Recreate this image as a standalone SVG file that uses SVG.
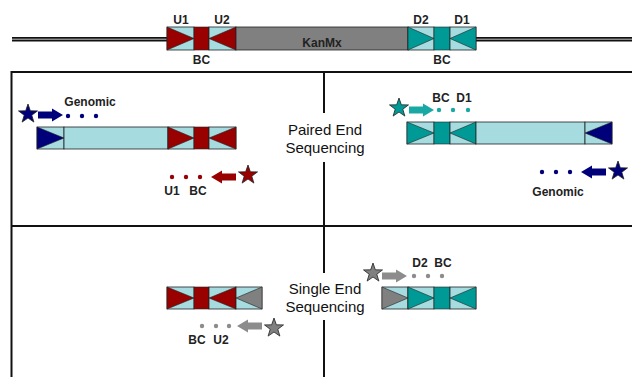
<svg xmlns="http://www.w3.org/2000/svg" width="632" height="377" viewBox="0 0 632 377">
<style>
.cy{fill:#a6dce0;stroke:#222;stroke-width:0.8}
.rd{fill:#990000;stroke:#222;stroke-width:0.6}
.tl{fill:#009a96;stroke:#222;stroke-width:0.6}
.nv{fill:#00007a;stroke:#222;stroke-width:0.6}
.gy{fill:#808080;stroke:#222;stroke-width:0.6}
.frame{stroke:#111;stroke-width:2;fill:none}
.lbl{font-family:"Liberation Sans",Arial,sans-serif;font-weight:bold;font-size:12px;fill:#222;text-anchor:middle}
.big{font-family:"Liberation Sans",Arial,sans-serif;font-size:15px;fill:#111;text-anchor:middle}
</style>
<defs>
<polygon id="star" points="0,-10 2.35,-3.2 9.5,-3.1 3.8,1.23 5.88,8.09 0,4 -5.88,8.09 -3.8,1.23 -9.5,-3.1 -2.35,-3.2" stroke="#222" stroke-width="0.8"/>
<polygon id="arr" points="0,-3.6 14,-3.6 14,-6.5 25,0 14,6.5 14,3.6 0,3.6"/>
</defs>
<rect width="632" height="377" fill="#fff"/>

<!-- frame -->
<g id="frame">
<path class="frame" d="M11.5,377 V72 H632 M11.5,226 H632 M324,72 V113 M324,162 V273 M324,320 V377"/>
</g>

<!-- top construct -->
<g id="construct">
<rect x="12" y="37" width="156" height="4.5" fill="#111"/>
<rect x="476" y="37" width="156" height="4.5" fill="#111"/>
<rect x="12" y="38.6" width="156" height="1.3" fill="#9a9a9a"/>
<rect x="476" y="38.6" width="156" height="1.3" fill="#9a9a9a"/>
<rect class="cy" x="167" y="27" width="27" height="23"/>
<polygon class="rd" points="167,27 167,50 194,38.5"/>
<rect class="rd" x="194" y="27" width="15" height="23"/>
<rect class="cy" x="209" y="27" width="27" height="23"/>
<polygon class="rd" points="236,27 236,50 209,38.5"/>
<rect x="236" y="27" width="172" height="23" fill="#808080" stroke="#222" stroke-width="0.8"/>
<rect class="cy" x="408" y="27" width="26" height="23"/>
<polygon class="tl" points="408,27 408,50 434,38.5"/>
<rect class="tl" x="434" y="27" width="16" height="23"/>
<rect class="cy" x="450" y="27" width="26" height="23"/>
<polygon class="tl" points="476,27 476,50 450,38.5"/>
<text class="lbl" x="181" y="24">U1</text>
<text class="lbl" x="222" y="24">U2</text>
<text class="lbl" x="201.5" y="64">BC</text>
<text class="lbl" x="322" y="47">KanMx</text>
<text class="lbl" x="421" y="24">D2</text>
<text class="lbl" x="462" y="24">D1</text>
<text class="lbl" x="442" y="64">BC</text>
</g>

<!-- paired end left fragment -->
<g id="pe-left">
<rect class="cy" x="37" y="127" width="27" height="22"/>
<polygon class="nv" points="37,127 37,149 64,138"/>
<rect class="cy" x="64" y="127" width="104" height="22"/>
<rect class="cy" x="168" y="127" width="26" height="22"/>
<polygon class="rd" points="168,127 168,149 194,138"/>
<rect class="rd" x="194" y="127" width="15" height="22"/>
<rect class="cy" x="209" y="127" width="27" height="22"/>
<polygon class="rd" points="236,127 236,149 209,138"/>
</g>

<!-- paired end right fragment -->
<g id="pe-right">
<rect class="cy" x="407" y="122" width="27" height="22"/>
<polygon class="tl" points="407,122 407,144 434,133"/>
<rect class="tl" x="434" y="122" width="16" height="22"/>
<rect class="cy" x="450" y="122" width="26" height="22"/>
<polygon class="tl" points="476,122 476,144 450,133"/>
<rect class="cy" x="476" y="122" width="109" height="22"/>
<rect class="cy" x="585" y="122" width="27" height="22"/>
<polygon class="nv" points="612,122 612,144 585,133"/>
</g>

<!-- single end left fragment -->
<g id="se-left">
<rect class="cy" x="167" y="287" width="27" height="22"/>
<polygon class="rd" points="167,287 167,309 194,298"/>
<rect class="rd" x="194" y="287" width="15" height="22"/>
<rect class="cy" x="209" y="287" width="27" height="22"/>
<polygon class="rd" points="236,287 236,309 209,298"/>
<rect class="cy" x="236" y="287" width="26" height="22"/>
<polygon class="gy" points="262,287 262,309 236,298"/>
</g>

<!-- single end right fragment -->
<g id="se-right">
<rect class="cy" x="382" y="287" width="26" height="22"/>
<polygon class="gy" points="382,287 382,309 408,298"/>
<rect class="cy" x="408" y="287" width="26" height="22"/>
<polygon class="tl" points="408,287 408,309 434,298"/>
<rect class="tl" x="434" y="287" width="16" height="22"/>
<rect class="cy" x="450" y="287" width="26" height="22"/>
<polygon class="tl" points="476,287 476,309 450,298"/>
</g>

<!-- section labels -->
<g id="pe-label">
<text class="big" x="325" y="135">Paired End</text>
<text class="big" x="325" y="153">Sequencing</text>
</g>
<g id="se-label">
<text class="big" x="325" y="294">Single End</text>
<text class="big" x="325" y="312">Sequencing</text>
</g>

<!-- reads (connectors) -->
<g id="connectors">
<!-- PE genomic forward -->
<use href="#star" x="28" y="114" fill="#00007a"/>
<use href="#arr" transform="translate(38,115)" fill="#00007a"/>
<circle cx="68" cy="116" r="2.2" fill="#00007a"/>
<circle cx="82" cy="116" r="2.2" fill="#00007a"/>
<circle cx="96" cy="116" r="2.2" fill="#00007a"/>
<!-- PE U1 reverse -->
<use href="#star" x="248" y="175" fill="#990000"/>
<use href="#arr" transform="translate(236,177) scale(-1,1)" fill="#990000"/>
<circle cx="172" cy="177" r="2.2" fill="#990000"/>
<circle cx="186" cy="177" r="2.2" fill="#990000"/>
<circle cx="200" cy="177" r="2.2" fill="#990000"/>
<!-- PE D1 forward -->
<use href="#star" x="399" y="108" fill="#009a96"/>
<use href="#arr" transform="translate(409,110)" fill="#1aa8a4"/>
<circle cx="439" cy="110" r="2.2" fill="#1aa8a4"/>
<circle cx="453" cy="110" r="2.2" fill="#1aa8a4"/>
<circle cx="468" cy="110" r="2.2" fill="#1aa8a4"/>
<!-- PE genomic reverse -->
<use href="#star" x="618" y="171" fill="#00007a"/>
<use href="#arr" transform="translate(606,172) scale(-1,1)" fill="#00007a"/>
<circle cx="542" cy="172" r="2.2" fill="#00007a"/>
<circle cx="556" cy="172" r="2.2" fill="#00007a"/>
<circle cx="570" cy="172" r="2.2" fill="#00007a"/>
<!-- SE U2 reverse -->
<use href="#star" x="274" y="328" fill="#808080"/>
<use href="#arr" transform="translate(262,326) scale(-1,1)" fill="#8c8c8c"/>
<circle cx="202" cy="326" r="2.2" fill="#8c8c8c"/>
<circle cx="216" cy="326" r="2.2" fill="#8c8c8c"/>
<circle cx="229" cy="326" r="2.2" fill="#8c8c8c"/>
<!-- SE D2 forward -->
<use href="#star" x="373" y="273" fill="#808080"/>
<use href="#arr" transform="translate(382,276)" fill="#8c8c8c"/>
<circle cx="414" cy="276" r="2.2" fill="#8c8c8c"/>
<circle cx="428" cy="276" r="2.2" fill="#8c8c8c"/>
<circle cx="442" cy="276" r="2.2" fill="#8c8c8c"/>
</g>

<g id="read-labels">
<text class="lbl" x="90" y="106">Genomic</text>
<text class="lbl" x="172" y="195">U1</text>
<text class="lbl" x="198" y="195">BC</text>
<text class="lbl" x="441" y="102">BC</text>
<text class="lbl" x="464" y="102">D1</text>
<text class="lbl" x="558" y="196">Genomic</text>
<text class="lbl" x="197" y="344">BC</text>
<text class="lbl" x="221" y="344">U2</text>
<text class="lbl" x="420" y="267">D2</text>
<text class="lbl" x="443" y="267">BC</text>
</g>
</svg>
